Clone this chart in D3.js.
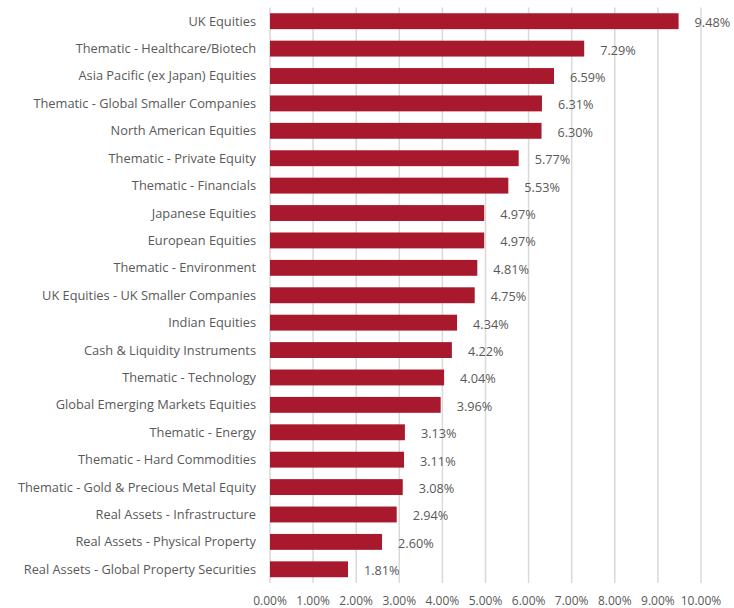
<!DOCTYPE html>
<html>
<head>
<meta charset="utf-8">
<script src="https://cdn.jsdelivr.net/npm/d3@7"></script>
<style>
  body { margin: 0; background: #fff; }
  text { font-family: "Open Sans", sans-serif; fill: #595959; }
</style>
</head>
<body>
<svg id="chart" width="734" height="608"></svg>
<script>
var categories = [
  "UK Equities",
  "Thematic - Healthcare/Biotech",
  "Asia Pacific (ex Japan) Equities",
  "Thematic - Global Smaller Companies",
  "North American Equities",
  "Thematic - Private Equity",
  "Thematic - Financials",
  "Japanese Equities",
  "European Equities",
  "Thematic - Environment",
  "UK Equities - UK Smaller Companies",
  "Indian Equities",
  "Cash & Liquidity Instruments",
  "Thematic - Technology",
  "Global Emerging Markets Equities",
  "Thematic - Energy",
  "Thematic - Hard Commodities",
  "Thematic - Gold & Precious Metal Equity",
  "Real Assets - Infrastructure",
  "Real Assets - Physical Property",
  "Real Assets - Global Property Securities"
];
var values = [9.48, 7.29, 6.59, 6.31, 6.30, 5.77, 5.53, 4.97, 4.97, 4.81, 4.75,
  4.34, 4.22, 4.04, 3.96, 3.13, 3.11, 3.08, 2.94, 2.60, 1.81];
var ticks = [0, 1, 2, 3, 4, 5, 6, 7, 8, 9, 10];

var data = categories.map(function (c, i) { return { name: c, value: values[i] }; });

var svg = d3.select("#chart");
var plotLeft = 270, plotRight = 701, plotTop = 7.5, plotBottom = 583;

var x = d3.scaleLinear().domain([0, 10]).range([plotLeft, plotRight]);
var y = d3.scaleBand().domain(categories).range([plotTop, plotBottom]).paddingInner(0.42).paddingOuter(0.21);

// gridlines
svg.append("g")
  .selectAll("line")
  .data(ticks)
  .enter()
  .append("line")
  .attr("x1", function (d) { return x(d); })
  .attr("x2", function (d) { return x(d); })
  .attr("y1", plotTop)
  .attr("y2", plotBottom)
  .style("stroke", "#d9d9d9")
  .style("stroke-width", 1.5);

// x tick labels
svg.append("g")
  .selectAll("text")
  .data(ticks)
  .enter()
  .append("text")
  .attr("x", function (d) { return x(d); })
  .attr("y", 605)
  .style("text-anchor", "middle")
  .style("font-size", "12px")
  .text(function (d) { return d.toFixed(2) + "%"; });

// bars
svg.append("g")
  .selectAll("rect")
  .data(data)
  .enter()
  .append("rect")
  .attr("x", x(0))
  .attr("y", function (d) { return y(d.name); })
  .attr("width", function (d) { return x(d.value) - x(0); })
  .attr("height", y.bandwidth())
  .style("fill", "#a8192e");

// value labels
svg.append("g")
  .selectAll("text")
  .data(data)
  .enter()
  .append("text")
  .attr("x", function (d) { return x(d.value) + 16; })
  .attr("y", function (d) { return y(d.name) + y.bandwidth() / 2 + 1.5; })
  .attr("dy", "0.35em")
  .style("font-size", "12.7px")
  .text(function (d) { return d.value.toFixed(2) + "%"; });

// category labels
svg.append("g")
  .selectAll("text")
  .data(data)
  .enter()
  .append("text")
  .attr("x", 256)
  .attr("y", function (d) { return y(d.name) + y.bandwidth() / 2; })
  .attr("dy", "0.35em")
  .style("text-anchor", "end")
  .style("font-size", "12.8px")
  .text(function (d) { return d.name; });
</script>
</body>
</html>
